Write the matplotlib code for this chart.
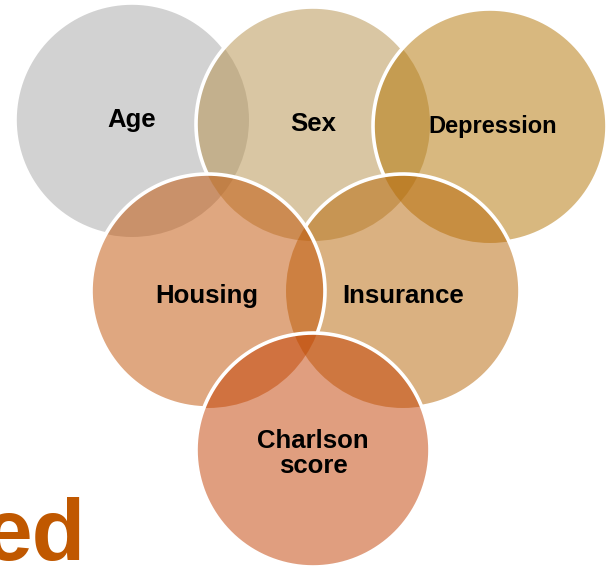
import numpy as np
import matplotlib.pyplot as plt
from matplotlib.patches import Circle

# --- DATA ---
labels = ["Age", "Sex", "Depression", "Insurance", "Housing", "Charlson\nscore"]
fills = ["#a7a7a7", "#b58f49", "#b37300", "#b76505", "#c15103", "#c33f01"]

# --- LAYOUT (pixel space, y down) ---
centers = [(132, 120), (313, 124), (490, 126), (403, 291), (208, 291), (313, 450)]
# baseline of the (last) line of each label
label_pos = [(132, 127), (313, 131), (493, 133), (403, 303), (207, 303), (313, 473)]
label_size = [18.5, 18.5, 17, 18.5, 18.5, 18.5]
RADIUS = 117
ALPHA = 0.5

fig = plt.figure(figsize=(6.08, 5.70), dpi=100)
ax = fig.add_axes([0, 0, 1, 1])
ax.set_xlim(0, 608)
ax.set_ylim(570, 0)
ax.set_aspect('equal')
ax.axis('off')

theta = np.linspace(0, 2 * np.pi, 1440)

for i, (cx, cy) in enumerate(centers):
    ax.add_patch(Circle((cx, cy), RADIUS, facecolor=fills[i], alpha=ALPHA,
                        edgecolor='none', zorder=2 + i))
    # white outline, hidden where a later circle sits on top
    ex = cx + RADIUS * np.cos(theta)
    ey = cy + RADIUS * np.sin(theta)
    hide = np.zeros_like(ex, dtype=bool)
    for (ox, oy) in centers[i + 1:]:
        hide |= np.hypot(ex - ox, ey - oy) < RADIUS - 1
    ex[hide] = np.nan
    ey[hide] = np.nan
    ax.plot(ex, ey, color='white', lw=2.6, solid_capstyle='butt', zorder=2 + i)

for i, lab in enumerate(labels):
    x, y = label_pos[i]
    ax.text(x, y, lab, ha='center', va='baseline', fontsize=label_size[i],
            fontweight='bold', family='Liberation Sans', color='black',
            linespacing=1.05, zorder=20)

# cropped slide title fragment
ax.text(-16, 560, "ed", ha='left', va='baseline', fontsize=63, fontweight='bold',
        family='Liberation Sans', color='#c05800', zorder=20)

fig.savefig('out.png', dpi=100)
